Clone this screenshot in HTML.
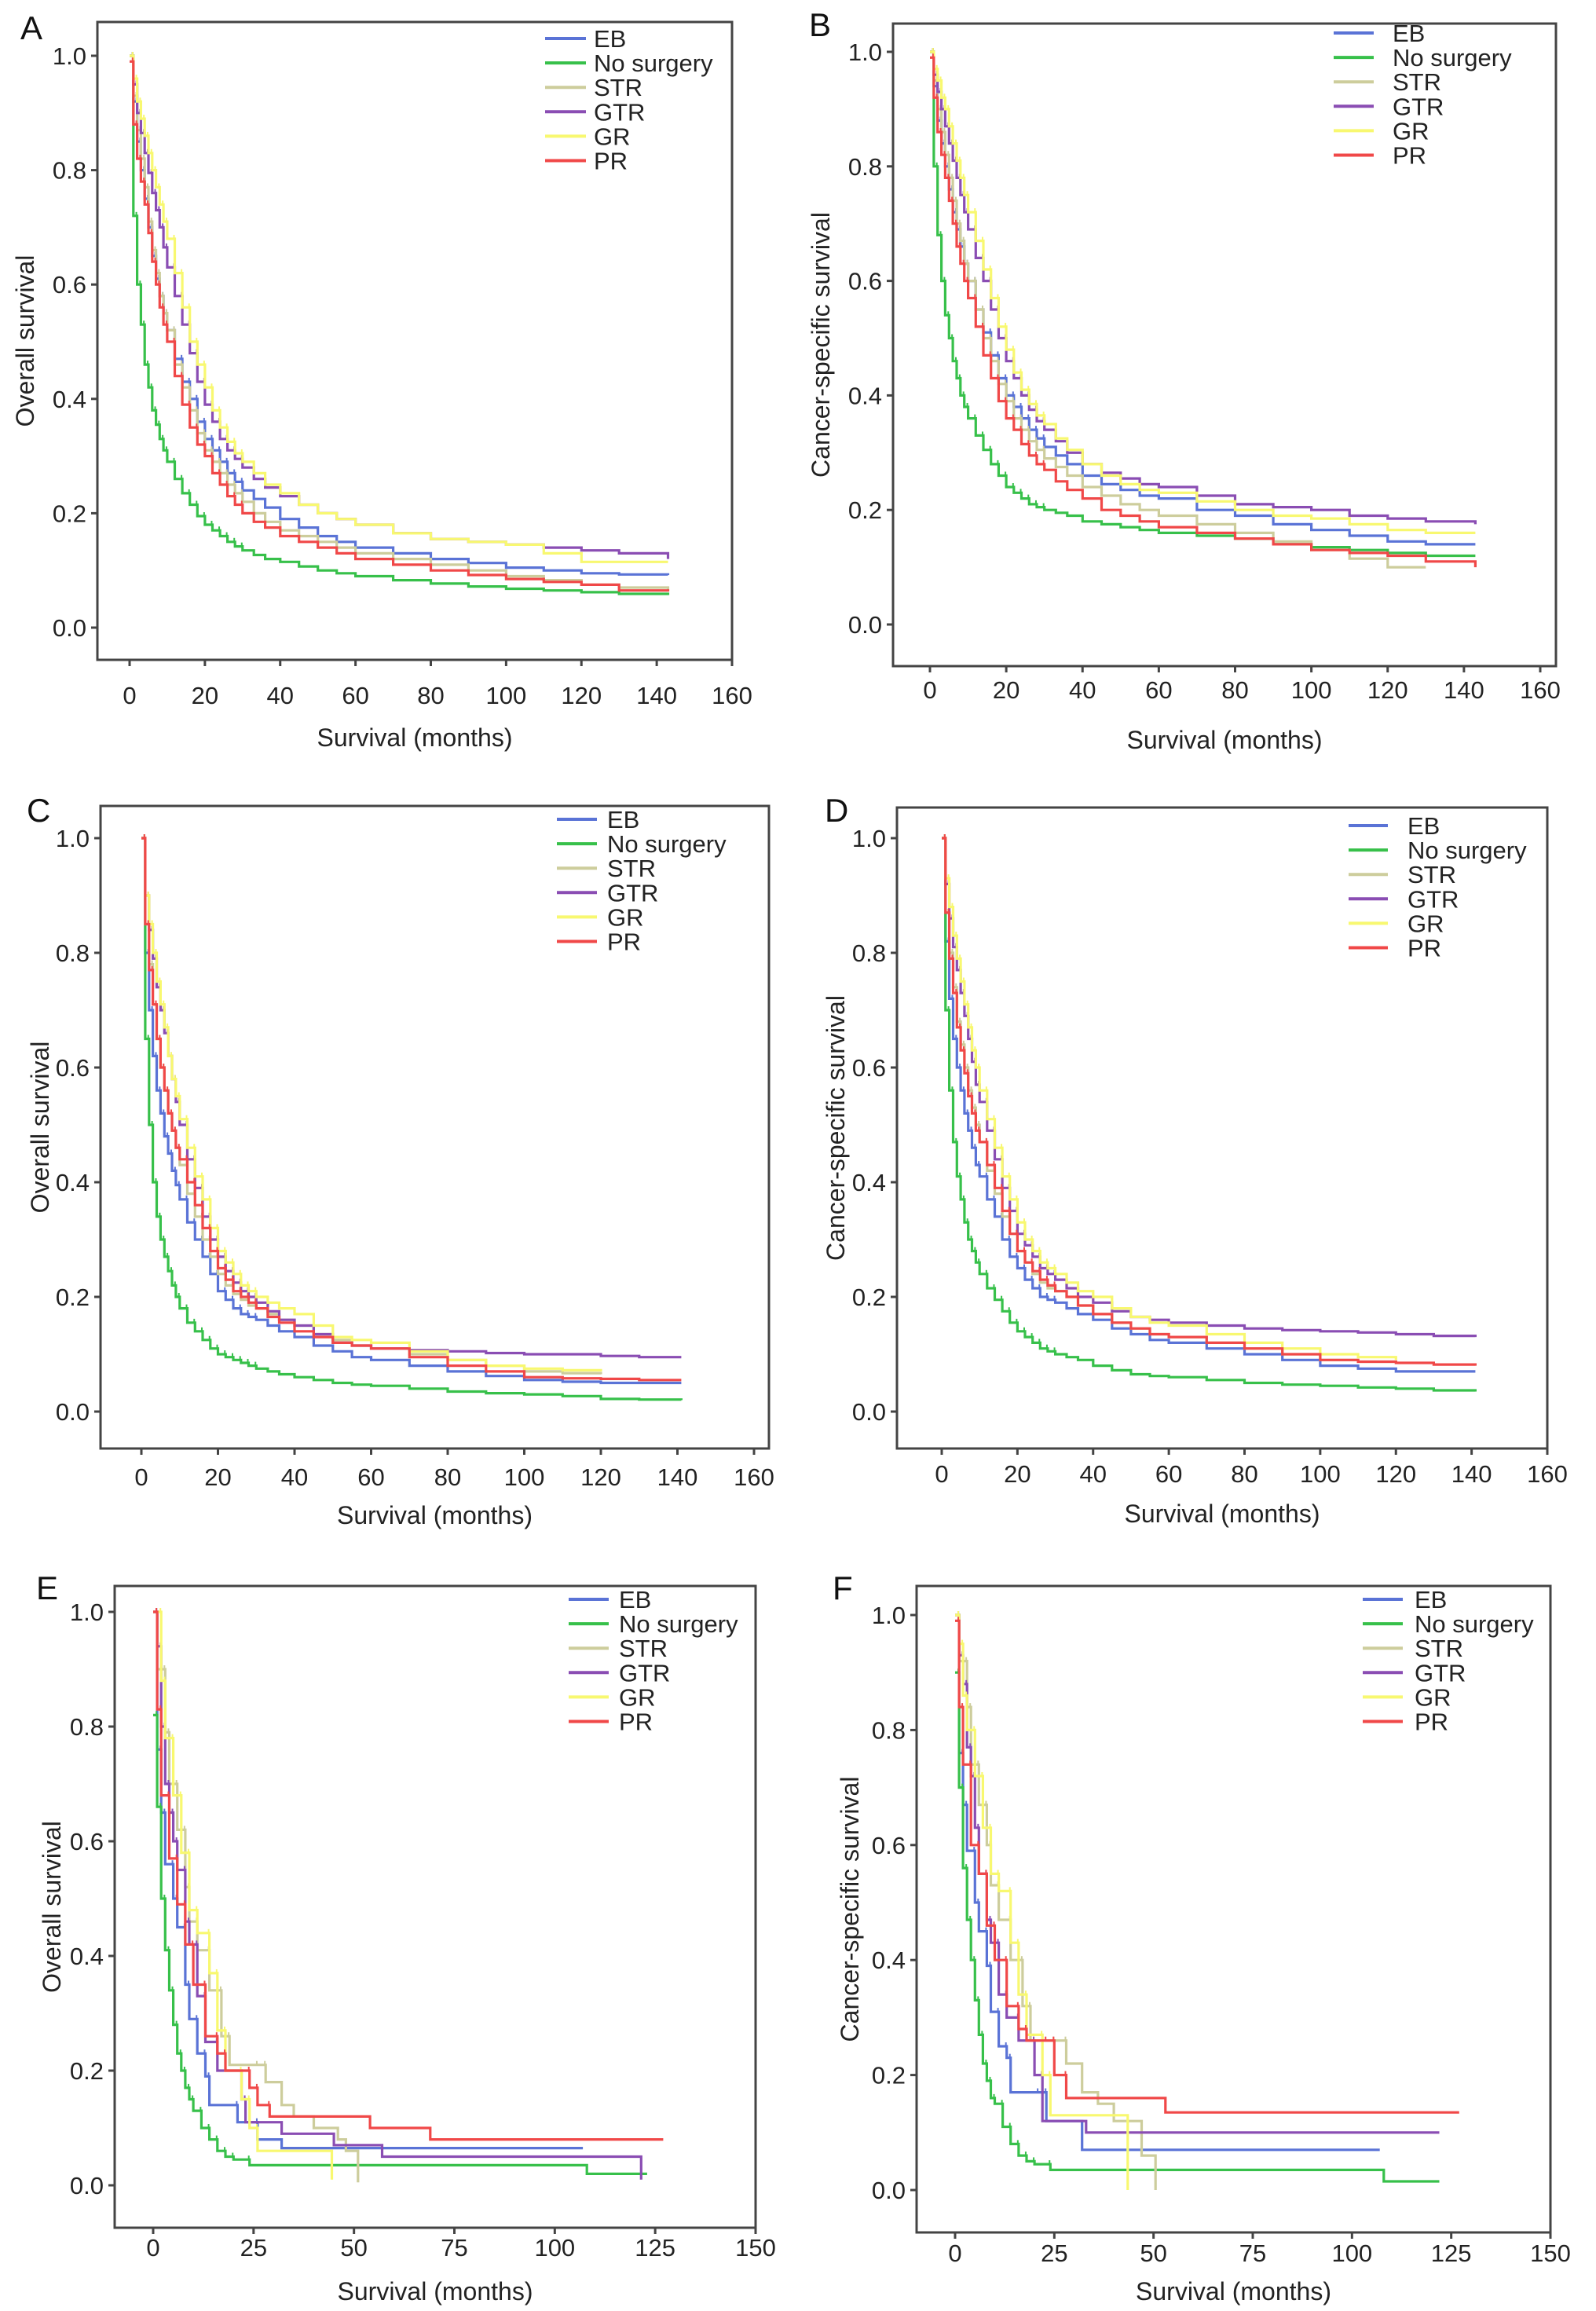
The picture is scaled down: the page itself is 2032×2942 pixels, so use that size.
<!DOCTYPE html>
<html><head><meta charset="utf-8">
<style>
html,body{margin:0;padding:0;background:#fff;}
svg{display:block;font-family:"Liberation Sans",Arial,sans-serif;}
</style></head>
<body>
<svg id="fig" width="2032" height="2942" viewBox="0 0 2032 2942" xmlns="http://www.w3.org/2000/svg">
<rect x="0" y="0" width="2032" height="2942" fill="#fff"/>
</svg>
<script>
// ---------- data ----------
const seriesNames = ["EB","No surgery","STR","GTR","GR","PR"];
const yTicks = [0.0,0.2,0.4,0.6,0.8,1.0];
const xTicks160 = [0,20,40,60,80,100,120,140,160];
const xTicks150 = [0,25,50,75,100,125,150];

// shared month grids for panels A-D
const gridAB = [0,1,2,3,4,5,6,7,8,9,10,12,14,16,18,20,22,24,26,28,30,33,36,40,45,50,55,60,70,80,90,100,110,120,130,143];
const gridCD = [0,1,2,3,4,5,6,7,8,9,10,12,14,16,18,20,22,24,26,28,30,33,36,40,45,50,55,60,70,80,90,100,110,120,130,141];

// Panel A (overall survival)
const A_EB_s=[1,.92,.85,.80,.75,.70,.65,.61,.58,.55,.52,.47,.43,.40,.36,.33,.31,.29,.27,.255,.24,.225,.21,.19,.175,.16,.15,.14,.13,.12,.113,.105,.1,.095,.093,.092];
const A_NS_s=[1,.72,.6,.53,.46,.42,.38,.355,.33,.31,.29,.26,.235,.215,.195,.18,.17,.16,.15,.142,.135,.127,.12,.115,.107,.1,.095,.09,.083,.077,.072,.068,.065,.062,.059,.057];
const A_STR_s=[1,.93,.87,.82,.77,.71,.66,.62,.58,.55,.52,.46,.42,.38,.34,.31,.29,.27,.25,.235,.22,.2,.185,.17,.16,.15,.14,.13,.12,.11,.1,.09,.083,.075,.07,.065];
const A_GTR_s=[1,.95,.9,.865,.83,.795,.76,.73,.7,.665,.63,.58,.53,.48,.43,.39,.36,.33,.31,.295,.28,.26,.245,.23,.215,.2,.19,.18,.165,.155,.15,.145,.14,.135,.13,.12];
const A_GR_s=[1,.96,.92,.89,.86,.83,.8,.77,.74,.71,.68,.62,.56,.5,.46,.42,.38,.35,.325,.305,.29,.27,.25,.235,.215,.2,.19,.18,.165,.155,.15,.145,.13,.115,.115,.115];
const A_PR_s=[.99,.88,.82,.78,.74,.69,.64,.6,.56,.53,.5,.44,.39,.35,.32,.3,.27,.25,.23,.215,.2,.185,.175,.16,.15,.14,.13,.12,.11,.1,.092,.085,.08,.075,.065,.063];

// Panel B (cancer-specific)
const B_EB_s=[1,.94,.88,.84,.8,.76,.72,.69,.66,.63,.6,.55,.51,.47,.43,.4,.38,.36,.34,.325,.31,.295,.28,.26,.245,.235,.225,.22,.2,.19,.175,.165,.155,.145,.14,.14];
const B_NS_s=[1,.8,.68,.6,.54,.5,.46,.43,.4,.38,.36,.33,.305,.28,.26,.24,.23,.22,.21,.205,.2,.195,.19,.18,.175,.17,.165,.16,.155,.15,.14,.135,.13,.125,.12,.12];
const B_STR_s=[1,.95,.9,.86,.82,.78,.74,.7,.67,.63,.6,.55,.5,.46,.42,.39,.36,.34,.32,.305,.29,.275,.26,.24,.225,.21,.2,.19,.175,.16,.145,.13,.115,.1,.1,null];
const B_GTR_s=[1,.96,.93,.9,.87,.84,.81,.78,.75,.72,.69,.64,.6,.55,.5,.46,.43,.4,.375,.355,.34,.32,.3,.28,.265,.255,.245,.24,.225,.21,.205,.2,.19,.185,.18,.175];
const B_GR_s=[1,.97,.95,.92,.9,.87,.84,.81,.78,.75,.72,.67,.62,.57,.52,.48,.44,.41,.385,.365,.35,.325,.305,.28,.26,.245,.235,.23,.215,.2,.19,.185,.175,.165,.16,.16];
const B_PR_s=[.99,.92,.86,.82,.78,.74,.7,.66,.63,.6,.57,.52,.47,.43,.39,.36,.34,.315,.295,.28,.27,.25,.235,.22,.2,.19,.18,.17,.16,.15,.14,.13,.125,.12,.11,.1];

// Panel C
const C_EB_s=[1,.8,.7,.62,.56,.52,.48,.45,.42,.395,.37,.33,.3,.27,.24,.21,.195,.18,.17,.165,.16,.15,.14,.13,.115,.105,.095,.09,.08,.07,.062,.055,.052,.05,.05,.05];
const C_NS_s=[1,.65,.5,.4,.34,.3,.27,.245,.22,.2,.18,.155,.14,.125,.11,.1,.095,.09,.085,.08,.075,.07,.065,.06,.055,.05,.047,.045,.04,.035,.032,.03,.027,.022,.021,.02];
const C_STR_s=[1,.85,.78,.71,.65,.6,.56,.52,.49,.46,.43,.38,.34,.3,.27,.24,.22,.205,.195,.185,.18,.17,.16,.15,.135,.125,.115,.11,.1,.09,.08,.07,.067,.065,null,null];
const C_GTR_s=[1,.9,.84,.79,.74,.7,.66,.62,.58,.54,.5,.44,.39,.34,.3,.27,.245,.225,.21,.2,.19,.175,.16,.15,.135,.12,.115,.11,.107,.105,.102,.1,.1,.097,.095,.095];
const C_GR_s=[1,.9,.85,.8,.75,.71,.67,.62,.58,.55,.51,.46,.41,.37,.32,.28,.26,.24,.22,.21,.2,.19,.18,.17,.15,.13,.125,.12,.105,.09,.08,.075,.072,.07,null,null];
const C_PR_s=[1,.85,.77,.71,.65,.6,.56,.52,.49,.46,.44,.4,.36,.32,.28,.25,.23,.21,.2,.19,.18,.165,.155,.14,.13,.12,.115,.11,.095,.08,.07,.06,.058,.057,.055,.055];

// Panel D
const D_EB_s=[1,.82,.72,.65,.6,.56,.52,.49,.46,.43,.41,.37,.34,.3,.27,.25,.23,.215,.2,.195,.19,.18,.17,.16,.145,.135,.125,.12,.11,.1,.09,.08,.075,.07,.07,.07];
const D_NS_s=[1,.7,.56,.47,.41,.37,.33,.3,.28,.26,.24,.215,.195,.175,.155,.14,.13,.12,.11,.105,.1,.095,.09,.08,.072,.065,.062,.06,.055,.05,.047,.045,.042,.04,.037,.035];
const D_STR_s=[1,.87,.8,.74,.68,.64,.6,.56,.53,.5,.47,.42,.38,.34,.31,.28,.26,.24,.225,.215,.21,.2,.185,.17,.155,.145,.135,.13,.12,.11,.1,.09,.087,.085,null,null];
const D_GTR_s=[1,.92,.86,.81,.77,.73,.69,.65,.61,.57,.54,.49,.44,.39,.35,.31,.29,.27,.25,.24,.23,.215,.2,.19,.175,.165,.16,.155,.15,.145,.142,.14,.138,.135,.132,.13];
const D_GR_s=[1,.93,.88,.83,.79,.75,.71,.67,.63,.6,.56,.51,.46,.41,.37,.33,.3,.28,.26,.25,.24,.225,.21,.2,.18,.165,.155,.15,.135,.12,.11,.1,.095,.09,null,null];
const D_PR_s=[1,.87,.79,.73,.67,.63,.59,.55,.52,.49,.47,.43,.39,.35,.31,.28,.26,.245,.23,.22,.21,.2,.185,.17,.155,.145,.135,.13,.12,.11,.1,.09,.087,.085,.082,.08];

// Panel E
const E_EB_t=[0,1,2,3,5,6,8,9,11,13,14,21,26,32,107];
const E_EB_s=[1,0.76,0.65,0.56,0.5,0.45,0.35,0.29,0.23,0.19,0.14,0.11,0.08,0.065,0.065];
const E_NS_t=[0,1,2,3,4,5,6,7,8,9,10,12,14,16,18,20,24,108,123];
const E_NS_s=[0.82,0.66,0.5,0.41,0.34,0.28,0.23,0.2,0.17,0.15,0.13,0.1,0.08,0.06,0.05,0.045,0.035,0.02,0.02];
const E_STR_t=[0,1,3,4,6,8,9,11,14,17,19,26,28,32,35,40,46,48,51];
const E_STR_s=[1,0.9,0.79,0.7,0.62,0.52,0.46,0.41,0.34,0.26,0.21,0.21,0.18,0.14,0.12,0.1,0.08,0.06,0.005];
const E_GTR_t=[0,1,2,3,4,5,6,8,9,11,13,16,22,23,32,45,57,121,121.5];
const E_GTR_s=[1,0.94,0.8,0.7,0.65,0.6,0.55,0.46,0.42,0.33,0.25,0.2,0.15,0.11,0.09,0.07,0.05,0.05,0.01];
const E_GR_t=[0,2,3,5,7,9,11,14,16,18,22,24,26,44,44.5];
const E_GR_s=[1,0.88,0.78,0.68,0.58,0.48,0.44,0.37,0.27,0.2,0.15,0.1,0.06,0.06,0.01];
const E_PR_t=[0,1,2,4,6,8,10,13,16,18,24,26,29,54,69,127];
const E_PR_s=[1,0.83,0.68,0.57,0.49,0.42,0.35,0.26,0.23,0.2,0.17,0.14,0.12,0.1,0.08,0.08];

// Panel F
const F_EB_t=[0,1,2,3,5,6,8,9,11,13,14,21,23,32,107];
const F_EB_s=[1,0.76,0.67,0.59,0.5,0.45,0.39,0.31,0.25,0.23,0.17,0.17,0.12,0.07,0.07];
const F_NS_t=[0,1,2,3,4,5,6,7,8,9,10,12,14,16,18,20,24,108,122];
const F_NS_s=[0.9,0.7,0.56,0.47,0.4,0.33,0.27,0.22,0.19,0.16,0.15,0.11,0.08,0.06,0.05,0.045,0.035,0.015,0.015];
const F_STR_t=[0,1,3,4,6,8,9,11,14,17,19,25,28,32,36,40,47,50,50.5];
const F_STR_s=[1,0.92,0.84,0.74,0.67,0.6,0.53,0.47,0.4,0.32,0.26,0.26,0.22,0.17,0.15,0.12,0.06,0.06,0.0];
const F_GTR_t=[0,1,2,3,4,5,6,8,9,11,13,16,20,22,33,122];
const F_GTR_s=[1,0.93,0.88,0.77,0.72,0.63,0.55,0.47,0.43,0.34,0.3,0.26,0.2,0.12,0.1,0.1];
const F_GR_t=[0,1,2,3,5,7,9,11,14,16,18,22,24,43,43.5];
const F_GR_s=[1,0.95,0.86,0.8,0.72,0.63,0.55,0.52,0.43,0.34,0.27,0.2,0.13,0.13,0.0];
const F_PR_t=[0,1,2,4,6,8,10,13,16,18,23,25,28,53,127];
const F_PR_s=[0.99,0.84,0.74,0.6,0.55,0.46,0.4,0.32,0.28,0.26,0.26,0.2,0.16,0.135,0.135];

// ---------- rendering ----------
const colors = ["#5a73d6","#37c04a","#cdcd9c","#8a4db3","#f8f870","#f04848"];
const NS = "http://www.w3.org/2000/svg";
const svg = document.getElementById("fig");
function mk(tag, attrs, parent){ const e=document.createElementNS(NS,tag); for(const k in attrs) e.setAttribute(k,attrs[k]); (parent||svg).appendChild(e); return e; }

const panels = [
 {id:"a",letter:"A",L:124,T:28,R:932,B:840,x0:165,xm:932,xmax:160,y1:71,y0:799,tickY:896,xlY:950,ylX:32,yl:"Overall survival",lx1:694,lx2:746,ltx:756,ly:49,letX:26,letY:50,
  data:[[gridAB,A_EB_s],[gridAB,A_NS_s],[gridAB,A_STR_s],[gridAB,A_GTR_s],[gridAB,A_GR_s],[gridAB,A_PR_s]]},
 {id:"b",letter:"B",L:1137,T:30,R:1981,B:848,x0:1184,xm:1961,xmax:160,y1:66,y0:795,tickY:889,xlY:953,ylX:1045,yl:"Cancer-specific survival",lx1:1698,lx2:1749,ltx:1773,ly:42,letX:1030,letY:46,
  data:[[gridAB,B_EB_s],[gridAB,B_NS_s],[gridAB,B_STR_s],[gridAB,B_GTR_s],[gridAB,B_GR_s],[gridAB,B_PR_s]]},
 {id:"c",letter:"C",L:128,T:1026,R:979,B:1844,x0:180,xm:960,xmax:160,y1:1067,y0:1797,tickY:1891,xlY:1940,ylX:51,yl:"Overall survival",lx1:709,lx2:760,ltx:773,ly:1043,letX:34,letY:1046,
  data:[[gridCD,C_EB_s],[gridCD,C_NS_s],[gridCD,C_STR_s],[gridCD,C_GTR_s],[gridCD,C_GR_s],[gridCD,C_PR_s]]},
 {id:"d",letter:"D",L:1142,T:1028,R:1970,B:1844,x0:1199,xm:1970,xmax:160,y1:1067,y0:1797,tickY:1887,xlY:1938,ylX:1064,yl:"Cancer-specific survival",lx1:1717,lx2:1767,ltx:1792,ly:1051,letX:1050,letY:1046,
  data:[[gridCD,D_EB_s],[gridCD,D_NS_s],[gridCD,D_STR_s],[gridCD,D_GTR_s],[gridCD,D_GR_s],[gridCD,D_PR_s]]},
 {id:"e",letter:"E",L:146,T:2019,R:962,B:2836,x0:195,xm:962,xmax:150,y1:2052,y0:2782,tickY:2872,xlY:2928,ylX:66,yl:"Overall survival",lx1:724,lx2:775,ltx:788,ly:2036,letX:46,letY:2036,
  data:[[E_EB_t,E_EB_s],[E_NS_t,E_NS_s],[E_STR_t,E_STR_s],[E_GTR_t,E_GTR_s],[E_GR_t,E_GR_s],[E_PR_t,E_PR_s]]},
 {id:"f",letter:"F",L:1167,T:2019,R:1974,B:2842,x0:1216,xm:1974,xmax:150,y1:2056,y0:2788,tickY:2879,xlY:2928,ylX:1082,yl:"Cancer-specific survival",lx1:1735,lx2:1786,ltx:1801,ly:2036,letX:1060,letY:2036,
  data:[[F_EB_t,F_EB_s],[F_NS_t,F_NS_s],[F_STR_t,F_STR_s],[F_GTR_t,F_GTR_s],[F_GR_t,F_GR_s],[F_PR_t,F_PR_s]]}
];

panels.forEach(p=>{
  const g = mk("g",{});
  
  
  const xs = v => p.x0 + (p.xm-p.x0)*v/p.xmax;
  const ys = v => p.y0 + (p.y1-p.y0)*v;
  const xt = p.xmax===160 ? xTicks160 : xTicks150;
  const lt = mk("text",{x:p.letX,y:p.letY,"font-size":42,fill:"#111"},g); lt.textContent=p.letter;
  
  
  p.data.forEach((d,i)=>{
    const t=d[0], s=d[1];
    let path = "M"+xs(t[0]).toFixed(1)+" "+ys(s[0]).toFixed(1);
    for(let k=1;k<t.length;k++){ if(s[k]===null) break; path += " H"+xs(t[k]).toFixed(1)+" V"+ys(s[k]).toFixed(1); }
    const c = mk("path",{d:path,fill:"none",stroke:colors[i],"stroke-width":3.2,"stroke-linejoin":"miter"},g);
    
    
    for(let k=1;k<t.length;k++){
      if(s[k]===null) break;
      if(t[k]<=30){
        mk("line",{x1:xs(t[k])-1,x2:xs(t[k])-1,y1:ys(s[k-1])-5,y2:ys(s[k-1])+1,stroke:colors[i],"stroke-width":2},g);
      }
    }
  });
  const fr = mk("rect",{x:p.L,y:p.T,width:p.R-p.L,height:p.B-p.T,fill:"none",stroke:"#444","stroke-width":3},g);
  
  
  yTicks.forEach(v=>{
    mk("line",{x1:p.L-8,x2:p.L,y1:ys(v),y2:ys(v),stroke:"#444","stroke-width":3},g);
    const tx = mk("text",{x:p.L-14,y:ys(v)+11,"font-size":31,"text-anchor":"end",fill:"#222"},g);
    tx.textContent = v.toFixed(1);
    
    
  });
  xt.forEach(v=>{
    mk("line",{x1:xs(v),x2:xs(v),y1:p.B,y2:p.B+8,stroke:"#444","stroke-width":3},g);
    const tx = mk("text",{x:xs(v),y:p.tickY,"font-size":31,"text-anchor":"middle",fill:"#222"},g);
    tx.textContent = String(v);
    
    
  });
  const xl = mk("text",{x:(p.L+p.R)/2,y:p.xlY,"font-size":32,"text-anchor":"middle",fill:"#222"},g);
  xl.textContent="Survival (months)";
  
  
  const yc=(p.T+p.B)/2;
  const yl = mk("text",{x:p.ylX,y:yc,"font-size":32,"text-anchor":"middle",fill:"#222",transform:"rotate(-90 "+p.ylX+" "+yc+") translate(0 11)"},g);
  yl.textContent=p.yl;
  
  
  seriesNames.forEach((n,i)=>{
    const yy = p.ly + i*31.1;
    const lg = mk("g",{},g);
    
    
    mk("line",{x1:p.lx1,x2:p.lx2,y1:yy,y2:yy,stroke:colors[i],"stroke-width":4},lg);
    const tx = mk("text",{x:p.ltx,y:yy+11,"font-size":31,fill:"#222"},lg);
    tx.textContent=n;
  });
});
</script>
</body></html>
